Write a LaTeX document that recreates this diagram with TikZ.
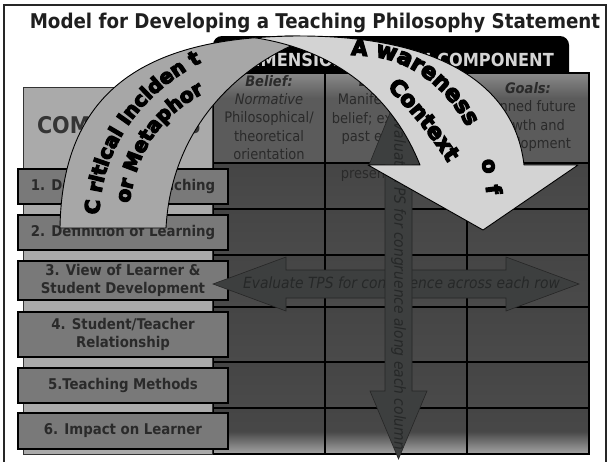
\documentclass[tikz,border=0pt]{standalone}
\usepackage{fontspec}
\setmainfont{DejaVu Sans Condensed}[
  BoldFont={DejaVu Sans Condensed Bold},
  ItalicFont={DejaVu Sans Condensed Oblique},
  BoldItalicFont={DejaVu Sans Condensed Bold Oblique}]
\newfontfamily\heavyfont{DejaVu Sans Bold}[FakeBold=6]
\usetikzlibrary{decorations.text}

\definecolor{titleink}{HTML}{1F1F1F}
\definecolor{tabink}{HTML}{D4D4D4}
\definecolor{headtop}{HTML}{8A8A8A}
\definecolor{cellhead}{HTML}{5B5B5B}
\definecolor{cellbody}{HTML}{4A4A4A}
\definecolor{celltop}{HTML}{454545}
\definecolor{reflect}{HTML}{A5A5A5}
\definecolor{panelgray}{HTML}{AAAAAA}
\definecolor{boxgray}{HTML}{797979}
\definecolor{inktext}{HTML}{2A2A2A}
\definecolor{comptext}{HTML}{353535}
\definecolor{arrowgray}{HTML}{3D3F3F}
\definecolor{evalink}{HTML}{262828}
\definecolor{bandback}{HTML}{A7A7A7}
\definecolor{bandfront}{HTML}{D3D3D3}

\tikzset{
  cellline/.style={draw=black, line width=1.4pt},
  headtext/.style={inner sep=0pt, align=center, text=inktext,
    font=\fontsize{14.5}{18.3}\selectfont},
  compbox/.style={draw=black, line width=1.2pt, fill=boxgray,
    minimum width=210pt, inner sep=0pt, align=center, text=inktext,
    font=\bfseries\fontsize{14.8}{17.5}\selectfont},
  evalarrow/.style={fill=arrowgray, draw=black!85, line width=0.6pt, line join=miter},
  evaltext/.style={text=evalink, inner sep=0pt,
    font=\itshape\fontsize{15.4}{18}\selectfont},
  bandedge/.style={draw=black, line width=0.9pt, line join=round},
}

\begin{document}
\begin{tikzpicture}[x=1pt,y=-1pt]
\useasboundingbox (0,0) rectangle (610,461);
\fill[white] (0,0) rectangle (610,461);

% outer frame
\draw[line width=1.3pt, draw=black!85] (4,5) rectangle (606,475);

% title
\node[font=\bfseries\fontsize{20.3}{24}\selectfont, text=titleink, anchor=base, inner sep=0pt]
  (title) at (315,28.5) {Model for Developing a Teaching Philosophy Statement};

% black tab behind the header row
\fill[black, rounded corners=9pt] (213,100) |- (569,36) -- (569,100) -- cycle;
\node[font=\bfseries\fontsize{18}{20}\selectfont, text=tabink, inner sep=0pt]
  (dimhead) at (397.5,60) {DIMENSION OF EACH COMPONENT};

% header cells
\foreach \xa/\xb in {213/325,325/467,467/589}{
  \fill[cellhead] (\xa,73) rectangle (\xb,163);
  \shade[top color=headtop, bottom color=cellhead] (\xa,73) rectangle (\xb,98);
}
% body cells, one shaded band per row
\foreach \ya/\yb in {163/209,209/255,255/307,307/362,362/408,408/454}{
  \shade[top color=celltop, bottom color=cellbody] (213,\ya) rectangle (589,\yb);
}
\shade[top color=cellbody, bottom color=reflect] (213,432) rectangle (589,454);

% grid lines
\draw[cellline] (213,73) rectangle (589,454);
\foreach \x in {325,467} \draw[cellline] (\x,73) -- (\x,454);
\foreach \y in {163,209,255,307,362,408} \draw[cellline] (213,\y) -- (589,\y);

% header texts
\node[headtext] (belief) at (269,117.5)
  {\textbf{\textit{Belief:}}\\\textit{Normative}\\Philosophical/\\theoretical\\orientation};
\node[headtext] (behavior) at (394,128.3)
  {\textbf{\textit{Behavior:}}\\Manifestations of\\belief; examples of\\past experience\\and\\present practice};
\node[headtext] (goals) at (528,117)
  {\textbf{\textit{Goals:}}\\Planned future\\growth and\\development};

% components panel
\draw[fill=panelgray, draw=black!80, line width=0.8pt] (23,87) rectangle (212,454);
\node[font=\bfseries\fontsize{23}{26}\selectfont, text=comptext, inner sep=0pt]
  (comphead) at (119,125) {COMPONENTS};

% component boxes
\node[compbox, minimum height=35pt] (c1) at (123,186.5) {1. Definition of Teaching};
\node[compbox, minimum height=35pt] (c2) at (123,232.5) {2. Definition of Learning};
\node[compbox, minimum height=39pt] (c3) at (123,280.5) {3. View of Learner \&\\Student Development};
\node[compbox, minimum height=45pt] (c4) at (123,334.5) {4. Student/Teacher\\Relationship};
\node[compbox, minimum height=35pt] (c5) at (123,385.5) {5.Teaching Methods};
\node[compbox, minimum height=36pt] (c6) at (123,431) {6. Impact on Learner};

% evaluation arrow across each row
\draw[evalarrow] (213,284) -- (286,257) -- (286,270) -- (506,270) -- (506,257)
  -- (579,284) -- (506,311) -- (506,298) -- (286,298) -- (286,311) -- cycle;
\node[evaltext] (rowtext) at (401.5,284) {Evaluate TPS for congruence across each row};

% evaluation arrow along each column
\draw[evalarrow] (398.5,92) -- (428,165) -- (412,165) -- (412,391) -- (427,391)
  -- (398.5,459) -- (370,391) -- (385,391) -- (385,165) -- (369,165) -- cycle;
\node[evaltext, rotate=-90] (coltext) at (398.5,282) {Evaluate TPS for congruence along each column};

% curved arrow: back face
\draw[bandedge, fill=bandback] (60,228) .. controls (62,95) and (140,36) .. (300,36)
  -- (300,42) .. controls (250,62) and (172,118) .. (166,228) -- cycle;
% curved arrow: front face with head
\draw[bandedge, fill=bandfront] (255,37.8) .. controls (270,36.6) and (285,36) .. (300,36)
  .. controls (440,36) and (515,85) .. (524,165) -- (578,165) -- (483,230) -- (368,165)
  -- (420,165) .. controls (392,95) and (335,50) .. (255,37.8) -- cycle;

% lettering along the curved arrow
\path[decorate, decoration={text along path, text align=center,
  text={|\heavyfont\fontsize{20}{22}\selectfont|C ritical Inciden t}}]
  (99,222) .. controls (99,150) and (140,92) .. (208,59);
\path[decorate, decoration={text along path, text align=center,
  text={|\heavyfont\fontsize{20}{22}\selectfont|or Metaphor}}]
  (128,212) .. controls (136,150) and (160,114) .. (212,89);
\path[decorate, decoration={text along path, text align=center,
  text={|\heavyfont\fontsize{21}{23}\selectfont|A}}]
  (348,55) .. controls (355,55) and (362,55.5) .. (370,56.5);
\path[decorate, decoration={text along path, text align=left,
  text={|\heavyfont\fontsize{22.5}{24}\selectfont|wareness}}]
  (375,57) .. controls (430,64) and (483,120) .. (488,204);
\path[decorate, decoration={text along path, text align=center,
  text={|\heavyfont\fontsize{21}{23}\selectfont|o}}]
  (481.5,157) -- (484,177);
\path[decorate, decoration={text along path, text align=center,
  text={|\heavyfont\fontsize{21}{23}\selectfont|f}}]
  (485,181) -- (487.5,200);
\path[decorate, decoration={text along path, text align=center,
  text={|\heavyfont\fontsize{22}{24}\selectfont|Context}}]
  (380,81) .. controls (405,104) and (432,136) .. (453,171);

\end{tikzpicture}
\end{document}
